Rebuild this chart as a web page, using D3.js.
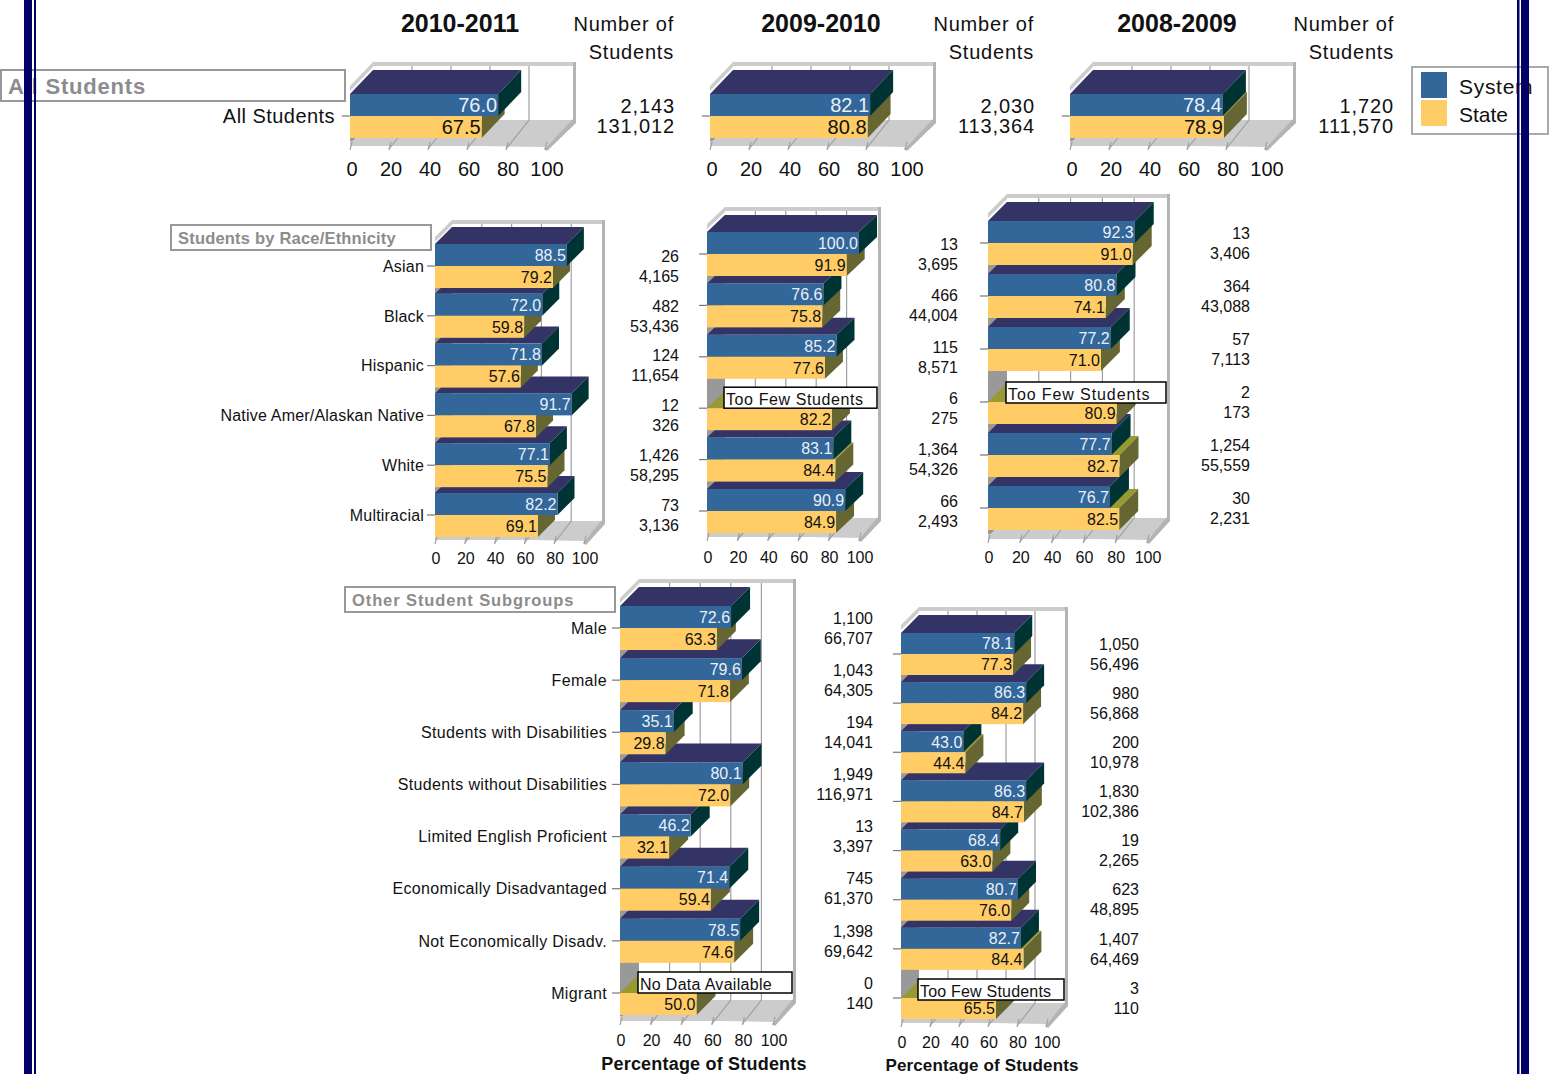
<!DOCTYPE html>
<html>
<head>
<meta charset="utf-8">
<title>Percentage of Students by Subgroup</title>
<script src="https://cdn.jsdelivr.net/npm/d3@7"></script>
<style>
  html, body { margin: 0; padding: 0; background: #fff; overflow: hidden; }
  text { font-family: "Liberation Sans", Arial, sans-serif; fill: #111; }
</style>
</head>
<body>
<svg id="chart" width="1556" height="1074"></svg>
<script>
// Category lists
const allCats = ["All Students"];
const raceCats = ["Asian", "Black", "Hispanic", "Native Amer/Alaskan Native", "White", "Multiracial"];
const otherCats = ["Male", "Female", "Students with Disabilities", "Students without Disabilities",
  "Limited English Proficient", "Economically Disadvantaged", "Not Economically Disadv.", "Migrant"];

const axisTicks = [0, 20, 40, 60, 80, 100];
const seriesNames = ["System", "State"];
const yearLabels = ["2010-2011", "2009-2010", "2008-2009"];

// Percentages; null means the system value is withheld
const allSystem2011 = [76.0], allState2011 = [67.5];
const allSystem2010 = [82.1], allState2010 = [80.8];
const allSystem2009 = [78.4], allState2009 = [78.9];

const raceSystem2011 = [88.5, 72.0, 71.8, 91.7, 77.1, 82.2];
const raceState2011 = [79.2, 59.8, 57.6, 67.8, 75.5, 69.1];
const raceSystem2010 = [100.0, 76.6, 85.2, null, 83.1, 90.9];
const raceState2010 = [91.9, 75.8, 77.6, 82.2, 84.4, 84.9];
const raceSystem2009 = [92.3, 80.8, 77.2, null, 77.7, 76.7];
const raceState2009 = [91.0, 74.1, 71.0, 80.9, 82.7, 82.5];

const otherSystem2011 = [72.6, 79.6, 35.1, 80.1, 46.2, 71.4, 78.5, null];
const otherState2011 = [63.3, 71.8, 29.8, 72.0, 32.1, 59.4, 74.6, 50.0];
const otherSystem2010 = [78.1, 86.3, 43.0, 86.3, 68.4, 80.7, 82.7, null];
const otherState2010 = [77.3, 84.2, 44.4, 84.7, 63.0, 76.0, 84.4, 65.5];

// Student counts shown beside each bar pair
const allCountSys2011 = ["2,143"], allCountState2011 = ["131,012"];
const allCountSys2010 = ["2,030"], allCountState2010 = ["113,364"];
const allCountSys2009 = ["1,720"], allCountState2009 = ["111,570"];

const raceCountSys2011 = ["26", "482", "124", "12", "1,426", "73"];
const raceCountState2011 = ["4,165", "53,436", "11,654", "326", "58,295", "3,136"];
const raceCountSys2010 = ["13", "466", "115", "6", "1,364", "66"];
const raceCountState2010 = ["3,695", "44,004", "8,571", "275", "54,326", "2,493"];
const raceCountSys2009 = ["13", "364", "57", "2", "1,254", "30"];
const raceCountState2009 = ["3,406", "43,088", "7,113", "173", "55,559", "2,231"];

const otherCountSys2011 = ["1,100", "1,043", "194", "1,949", "13", "745", "1,398", "0"];
const otherCountState2011 = ["66,707", "64,305", "14,041", "116,971", "3,397", "61,370", "69,642", "140"];
const otherCountSys2010 = ["1,050", "980", "200", "1,830", "19", "623", "1,407", "3"];
const otherCountState2010 = ["56,496", "56,868", "10,978", "102,386", "2,265", "48,895", "64,469", "110"];

const colors = {
  system: "#336699", systemTop: "#333366", systemSide: "#003333",
  state: "#ffcc66", stateTop: "#999933", stateSide: "#666633",
  wall: "#cccccc", wallLeft: "#999999", grid: "#a0a0a0", navy: "#000066"
};

const svg = d3.select("#chart");
const poly = (g, pts, fill) => g.append("polygon")
  .attr("points", pts.map(p => p.join(",")).join(" ")).attr("fill", fill);

function drawPanel(o) {
  const g = svg.append("g");
  const x = d3.scaleLinear().domain([0, 100]).range([o.x0, o.x100]);
  const y = d3.scalePoint().domain(o.cats).range([o.first, o.last]);
  const { dx, dy, h, font } = o;
  const floorFront = o.floorBack + dy;
  const wallX = x(100) + dx + (o.wallGap || 2);
  const countSpacing = o.countSpacing || "0px";

  // Back wall, left wall and floor
  poly(g, [[o.x0, floorFront], [o.x0 + dx, o.floorBack], [o.x0 + dx, o.wallTop], [o.x0, o.wallTop + dy]], colors.wallLeft);
  poly(g, [[o.x0, o.wallTop + dy - 5], [o.x0 + dx, o.wallTop - 2], [o.x0 + dx, o.top], [o.x0, o.top + dy + 1]], "#fff");
  poly(g, [[o.x0, o.wallTop + dy - 2], [o.x0 + dx, o.wallTop - 2], [o.x0 + dx, o.wallTop + 3], [o.x0, o.wallTop + dy + 3]], colors.wall);
  g.append("rect").attr("x", o.x0 + dx).attr("y", o.wallTop + 3).attr("width", wallX - o.x0 - dx).attr("height", o.floorBack - o.wallTop - 3).attr("fill", "#fff");
  poly(g, [[o.x0, floorFront], [o.x0 + dx, o.floorBack], [wallX, o.floorBack], [x(100), floorFront + 3]], colors.wall);
  poly(g, [[o.x0, floorFront - 3], [x(100), floorFront - 3], [x(100), floorFront + 2], [o.x0, floorFront + 2]], colors.wall);
  g.append("rect").attr("x", o.x0 + dx).attr("y", o.wallTop - 2).attr("width", wallX - o.x0 - dx + 2).attr("height", 4).attr("fill", colors.wall);
  g.append("rect").attr("x", wallX - 1).attr("y", o.wallTop - 2).attr("width", 3).attr("height", o.floorBack - o.wallTop + 2).attr("fill", "#b4b4b4");
  poly(g, [[x(100) - 1, floorFront + 5], [wallX - 1, o.floorBack - 1], [wallX + 2, o.floorBack - 1], [wallX + 2, o.floorBack + 3], [x(100) + 2, floorFront + 7]], "#b4b4b4");

  // Gridlines across the back wall and down the floor
  g.selectAll("path.grid").data(axisTicks.filter(t => t !== 0 && t !== 100)).join("path")
    .attr("class", "grid").attr("fill", "none").attr("stroke", colors.grid).attr("stroke-width", 1.2)
    .attr("d", t => `M${x(t) + dx},${o.wallTop + 2}V${o.floorBack}L${x(t)},${floorFront + 5}`);
  g.selectAll("line.front").data(axisTicks).join("line").attr("class", "front")
    .attr("x1", t => x(t) + 2).attr("x2", t => x(t)).attr("y1", floorFront - 2).attr("y2", floorFront + 6)
    .attr("stroke", colors.grid).attr("stroke-width", 1.2);

  // Bars, lowest row first so each row sits in front of the one below it
  o.cats.map((c, i) => i).reverse().forEach(i => {
    const c = o.cats[i], j = y(c), sys = o.system[i], st = o.state[i];
    const xs = x(st);
    poly(g, [[o.x0, j], [o.x0 + dx, j - dy], [xs + dx, j - dy], [xs, j]], colors.stateTop);
    poly(g, [[xs, j], [xs + dx, j - dy], [xs + dx, j + h - dy], [xs, j + h]], colors.stateSide);
    if (sys !== null) {
      const xb = x(sys);
      poly(g, [[o.x0, j - h], [o.x0 + dx, j - h - dy], [xb + dx, j - h - dy], [xb, j - h]], colors.systemTop);
      poly(g, [[xb, j - h], [xb + dx, j - h - dy], [xb + dx, j - dy], [xb, j]], colors.systemSide);
      g.append("rect").attr("x", o.x0).attr("y", j - h).attr("width", xb - o.x0).attr("height", h).attr("fill", colors.system);
      g.append("text").attr("x", xb - 1).attr("y", j - h / 2 + font * 0.36).attr("text-anchor", "end")
        .attr("font-size", font).style("fill", "#e8f0f8").text(sys.toFixed(1));
    }
    g.append("rect").attr("x", o.x0).attr("y", j).attr("width", xs - o.x0).attr("height", h).attr("fill", colors.state);
    g.append("text").attr("x", xs - 1).attr("y", j + h / 2 + font * 0.36).attr("text-anchor", "end")
      .attr("font-size", font).text(st.toFixed(1));
  });

  o.cats.forEach((c, i) => {
    const j = y(c), sys = o.system[i];

    // Note box for a withheld system value
    if (sys === null) {
      const bx = o.x0 + dx - 1;
      g.append("rect").attr("x", bx).attr("y", j + o.noteY).attr("width", wallX - 2 - bx).attr("height", 21)
        .attr("fill", "#fff").attr("stroke", "#000").attr("stroke-width", 1.5);
      g.append("text").attr("x", bx + 2).attr("y", j + o.noteY + 18).attr("font-size", 16).style("letter-spacing", o.noteSpacing)
        .text(o.note);
    }

    // Category label with tick mark
    g.append("line").attr("x1", o.x0 - 8).attr("x2", o.x0).attr("y1", j).attr("y2", j).attr("stroke", "#777").attr("stroke-width", 1.2);
    if (o.showCats) {
      g.append("text").attr("x", o.x0 - o.catGap).attr("y", j + font * 0.36).attr("text-anchor", "end")
        .attr("font-size", font).style("letter-spacing", o.catSpacing).text(c);
    }

    // Student counts
    g.append("text").attr("x", o.countX).attr("y", j - 10 + font * 0.36).attr("text-anchor", "end")
      .attr("font-size", font).style("letter-spacing", countSpacing).text(o.countSys[i]);
    g.append("text").attr("x", o.countX).attr("y", j + 10 + font * 0.36).attr("text-anchor", "end")
      .attr("font-size", font).style("letter-spacing", countSpacing).text(o.countState[i]);
  });

  // Axis labels
  g.selectAll("text.tick").data(axisTicks).join("text").attr("class", "tick")
    .attr("x", t => x(t) + (o.tickShift || 1)).attr("y", o.tickY).attr("text-anchor", "middle")
    .attr("font-size", font).text(t => t);

  if (o.axisTitle) {
    g.append("text").attr("x", o.titleX).attr("y", o.titleY).attr("text-anchor", "middle")
      .attr("font-size", o.titleSize).style("letter-spacing", o.titleSpacing)
      .attr("font-weight", "bold").text("Percentage of Students");
  }
}

function groupBox(x, y, w, h, label, size, spacing) {
  svg.append("rect").attr("x", x).attr("y", y).attr("width", w).attr("height", h)
    .attr("fill", "#fff").attr("stroke", "#999").attr("stroke-width", 2);
  svg.append("text").attr("x", x + 7).attr("y", y + h / 2 + size * 0.36 + 1).attr("font-size", size)
    .attr("font-weight", "bold").style("letter-spacing", spacing).style("fill", "#8c8c8c").text(label);
}

// Group boxes sit behind the panels
groupBox(1, 70, 344, 31, "All Students", 22, "0.8px");
groupBox(171, 225, 260, 25, "Students by Race/Ethnicity", 16.5, "0.2px");
groupBox(345, 587, 270, 25, "Other Student Subgroups", 16.5, "0.9px");

const rowAll = { cats: allCats, first: 116, last: 116, h: 22, dx: 23, dy: 24, font: 20, tickY: 176, wallGap: 6,
  wallTop: 64, top: 71, floorBack: 120, tickShift: 2, countSpacing: "0.9px", catGap: 15, catSpacing: "0.45px" };
drawPanel({ ...rowAll, x0: 350, x100: 545, system: allSystem2011, state: allState2011, countSys: allCountSys2011, countState: allCountState2011, countX: 675, showCats: true });
drawPanel({ ...rowAll, x0: 710, x100: 905, system: allSystem2010, state: allState2010, countSys: allCountSys2010, countState: allCountState2010, countX: 1035 });
drawPanel({ ...rowAll, x0: 1070, x100: 1265, system: allSystem2009, state: allState2009, countSys: allCountSys2009, countState: allCountState2009, countX: 1394 });

const rowRace = { cats: raceCats, h: 22, font: 16, note: "Too Few Students", noteY: -21, catGap: 11, catSpacing: "0.2px" };
drawPanel({ ...rowRace, x0: 435, x100: 584, first: 266, last: 515, dx: 17, dy: 17, wallTop: 222, top: 228, floorBack: 521, tickY: 564, system: raceSystem2011, state: raceState2011, countSys: raceCountSys2011, countState: raceCountState2011, countX: 679, showCats: true });
drawPanel({ ...rowRace, x0: 707, x100: 859, first: 254, last: 511, dx: 18, dy: 17, wallTop: 209, top: 215, floorBack: 518, tickY: 563, noteSpacing: "0.6px", system: raceSystem2010, state: raceState2010, countSys: raceCountSys2010, countState: raceCountState2010, countX: 958 });
drawPanel({ ...rowRace, x0: 988, x100: 1147, first: 243, last: 508, dx: 19, dy: 19, wallTop: 196, top: 202, floorBack: 518, tickY: 563, noteSpacing: "0.9px", system: raceSystem2009, state: raceState2009, countSys: raceCountSys2009, countState: raceCountState2009, countX: 1250, noteY: -20 });

const rowOther = { cats: otherCats, font: 16, catGap: 13, catSpacing: "0.35px" };
drawPanel({ ...rowOther, x0: 620, x100: 773, first: 628, last: 993, h: 22, dx: 19, dy: 19, wallTop: 581, top: 587, floorBack: 1000, tickY: 1046, system: otherSystem2011, state: otherState2011, countSys: otherCountSys2011, countState: otherCountState2011, countX: 873, showCats: true, note: "No Data Available", noteY: -21, noteSpacing: "0.3px", axisTitle: true, titleX: 704, titleY: 1070, titleSize: 18, titleSpacing: "0.2px" });
drawPanel({ ...rowOther, x0: 901, x100: 1046, first: 654, last: 998, h: 21, dx: 18, dy: 18, wallTop: 609, top: 615, floorBack: 1003, tickY: 1048, system: otherSystem2010, state: otherState2010, countSys: otherCountSys2010, countState: otherCountState2010, countX: 1139, note: "Too Few Students", noteY: -19, noteSpacing: "0.2px", axisTitle: true, titleX: 982, titleY: 1071, titleSize: 17, titleSpacing: "0.15px" });

// Year headings and count column headings
const headX = [460, 821, 1177], numX = [674, 1034, 1394];
yearLabels.forEach((lab, i) => {
  svg.append("text").attr("x", headX[i]).attr("y", 32).attr("text-anchor", "middle")
    .attr("font-size", 25).attr("font-weight", "bold").text(lab);
  svg.append("text").attr("x", numX[i]).attr("y", 31).attr("text-anchor", "end").attr("font-size", 20).style("letter-spacing", "0.8px").text("Number of");
  svg.append("text").attr("x", numX[i]).attr("y", 59).attr("text-anchor", "end").attr("font-size", 20).style("letter-spacing", "0.8px").text("Students");
});

// Legend
svg.append("rect").attr("x", 1412).attr("y", 67).attr("width", 136).attr("height", 67)
  .attr("fill", "#fff").attr("stroke", "#aaa").attr("stroke-width", 2);
seriesNames.forEach((name, i) => {
  svg.append("rect").attr("x", 1421).attr("y", 72 + i * 28).attr("width", 26).attr("height", 26)
    .attr("fill", i === 0 ? colors.system : colors.state);
  svg.append("text").attr("x", 1459).attr("y", 94 + i * 28).attr("font-size", 21)
    .style("letter-spacing", i === 0 ? "0.7px" : "0px").text(name);
});

// Page frame rules drawn over everything
[[24, 8], [34, 2], [1517, 2.5], [1521, 8]].forEach(([x, w]) => {
  svg.append("rect").attr("x", x).attr("y", 0).attr("width", w).attr("height", 1074).attr("fill", colors.navy);
});
</script>
</body>
</html>
